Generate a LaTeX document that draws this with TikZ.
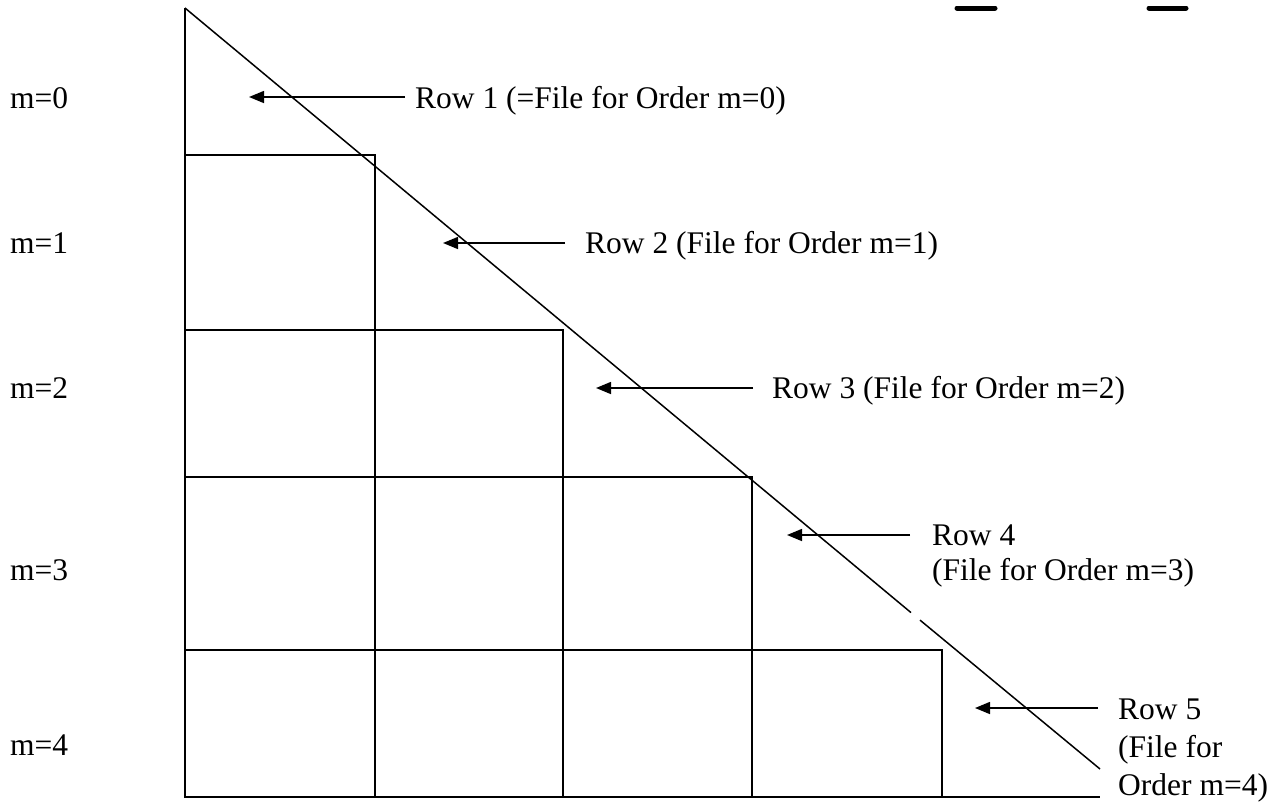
\documentclass[tikz,border=0pt]{standalone}
\usepackage{fontspec}
\setmainfont{Liberation Serif}
\usetikzlibrary{arrows.meta}
\begin{document}
\begin{tikzpicture}[x=1pt,y=-1pt,
  ln/.style={line width=1.5pt,black},
  lbl/.style={anchor=base west,inner sep=0pt,font=\fontsize{31.5}{38}\selectfont},
  pointer/.style={line width=1.5pt,-{Triangle[length=15pt,width=12pt]}},
  bar/.style={line width=5pt,line cap=round}]
\useasboundingbox[fill=white] (0,0) rectangle (1274,804);
% outline
\coordinate (top) at (185,8);
\coordinate (bl) at (185,797);
\coordinate (br) at (1100,797);
\coordinate (dend) at (1100,769);
\coordinate (g1) at (911,612.6);
\coordinate (g2) at (920,620.1);
\draw[ln] (top) -- (bl) -- (br);
\draw[ln] (top) -- (g1);
\draw[ln] (g2) -- (dend);
% grid
\draw[ln] (185,155) -- (375,155) -- (375,797);
\draw[ln] (185,330) -- (563,330) -- (563,797);
\draw[ln] (185,477) -- (752,477) -- (752,797);
\draw[ln] (185,650) -- (942,650) -- (942,797);
% bars at top right
\draw[bar] (957,8) -- (995,8);
\draw[bar] (1149,8) -- (1186,8);
% left labels
\node[lbl] (m0) at (10,108) {m=0};
\node[lbl] (m1) at (10,253) {m=1};
\node[lbl] (m2) at (10,398) {m=2};
\node[lbl] (m3) at (10,580) {m=3};
\node[lbl] (m4) at (10,755) {m=4};
% right labels
\node[lbl] (r1) at (415,108) {Row 1 (=File for Order m=0)};
\node[lbl] (r2) at (585,253) {Row 2 (File for Order m=1)};
\node[lbl] (r3) at (772,398) {Row 3 (File for Order m=2)};
\node[lbl] (r4a) at (932,545) {Row 4};
\node[lbl] (r4b) at (932,580) {(File for Order m=3)};
\node[lbl] (r5a) at (1118,719) {Row 5};
\node[lbl] (r5b) at (1118,757) {(File for};
\node[lbl] (r5c) at (1118,795) {Order m=4)};
% arrows
\coordinate (t1) at (405,97);  \coordinate (h1) at (249,97);
\coordinate (t2) at (565,243); \coordinate (h2) at (443,243);
\coordinate (t3) at (753,388); \coordinate (h3) at (596,388);
\coordinate (t4) at (910,535); \coordinate (h4) at (787,535);
\coordinate (t5) at (1098,708); \coordinate (h5) at (975,708);
\draw[pointer] (t1) -- (h1);
\draw[pointer] (t2) -- (h2);
\draw[pointer] (t3) -- (h3);
\draw[pointer] (t4) -- (h4);
\draw[pointer] (t5) -- (h5);
\end{tikzpicture}
\end{document}
